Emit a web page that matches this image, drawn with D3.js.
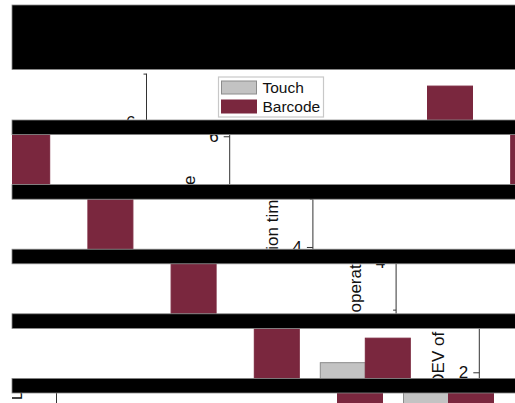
<!DOCTYPE html>
<html>
<head>
<meta charset="utf-8">
<script src="https://cdn.jsdelivr.net/npm/d3@7"></script>
<style>
  html, body { margin: 0; padding: 0; background: #fff; }
  svg { display: block; font-family: "Liberation Sans", Arial, sans-serif; }
</style>
</head>
<body>
<div id="chart"></div>
<script>
const width = 515;
const height = 403;

// data
const groups = ["Group 1", "Group 2"];
const seriesNames = ["Touch", "Barcode"];
const touchValues = [1.3, 2.2];
const barcodeValues = [6.74, 2.71];
const majorTicks = [2, 4, 6];
const minorTicks = [1, 3, 5, 7];
const yLabel = "STDEV of operation time";

const seriesColors = { Touch: "#c3c3c3", Barcode: "#7a273e" };
const seriesStroke = { Touch: "#8c8c8c", Barcode: "#7a273e" };

// the picture is cut in bands, every band shifted sideways and wrapped
const WRAP = 506;
const LEFT = 12;
const STRIP_H = 50;
const stripTops = [70, 134.6, 199.2, 263.8, 328.4, 393];
const stripShift = k => 146.5 + 83.2 * k;

const y = d3.scaleLinear().domain([0, 7]).range([340, 3.6]);
const x0 = d3.scaleBand().domain(groups).range([225.5, 447.5]);
const x1 = d3.scaleBand().domain(seriesNames).range([10.5, 100.5]);

const rows = groups.map((g, i) => ({
  group: g,
  values: [
    { key: "Touch", value: touchValues[i] },
    { key: "Barcode", value: barcodeValues[i] },
  ],
}));

const svg = d3.select("#chart")
  .append("svg")
  .attr("width", width)
  .attr("height", height);

svg.append("rect").attr("width", width).attr("height", height).attr("fill", "#fff");

function drawChart(g) {
  // bars
  const grp = g.selectAll(".grp")
    .data(rows)
    .join("g")
    .attr("transform", d => `translate(${x0(d.group)},0)`);

  grp.selectAll("rect")
    .data(d => d.values)
    .join("rect")
    .attr("x", d => x1(d.key))
    .attr("width", x1.bandwidth())
    .attr("y", d => y(d.value))
    .attr("height", d => y(0) - y(d.value))
    .attr("fill", d => seriesColors[d.key])
    .attr("stroke", d => seriesStroke[d.key])
    .attr("stroke-width", 1);

  // y axis, labels on even values, short ticks on odd ones
  const major = g.append("g")
    .call(d3.axisLeft(y).tickValues(majorTicks).tickFormat(d3.format("d"))
      .tickSize(6).tickPadding(5).tickSizeOuter(0));
  major.select(".domain").attr("stroke", "#333").attr("d", `M0,${y(7)}V${y(0)}`);
  major.selectAll(".tick line").attr("stroke", "#333");
  major.selectAll(".tick text")
    .attr("font-size", 17)
    .attr("font-family", "Liberation Sans, Arial, sans-serif")
    .attr("fill", "#111");

  const minor = g.append("g")
    .call(d3.axisLeft(y).tickValues(minorTicks).tickSize(3).tickFormat("").tickSizeOuter(0));
  minor.select(".domain").remove();
  minor.selectAll(".tick line").attr("stroke", "#333");

  g.append("text")
    .attr("transform", `translate(-35,185) rotate(-90)`)
    .attr("text-anchor", "middle")
    .attr("font-size", 17)
    .attr("fill", "#111")
    .text(yLabel);

  // legend
  const legend = g.append("g").attr("transform", "translate(72,7)");
  legend.append("rect")
    .attr("width", 105).attr("height", 40)
    .attr("fill", "#fff").attr("stroke", "#c8c8c8").attr("stroke-width", 1.2);
  const item = legend.selectAll(".item")
    .data(seriesNames)
    .join("g")
    .attr("transform", (d, i) => `translate(3,${4 + i * 19})`);
  item.append("rect")
    .attr("width", 35).attr("height", 13)
    .attr("fill", d => seriesColors[d])
    .attr("stroke", d => seriesStroke[d]);
  item.append("text")
    .attr("x", 41).attr("y", 12)
    .attr("font-size", 15.5)
    .attr("fill", "#111")
    .text(d => d);
}

const defs = svg.append("defs");

stripTops.forEach((top, k) => {
  const h = Math.min(STRIP_H, height - top);
  defs.append("clipPath")
    .attr("id", `strip${k}`)
    .append("rect")
    .attr("x", LEFT).attr("y", top)
    .attr("width", width - LEFT).attr("height", h);

  const strip = svg.append("g").attr("clip-path", `url(#strip${k})`);
  [-1, 0, 1].forEach(m => {
    const g = strip.append("g")
      .attr("transform", `translate(${stripShift(k) + m * WRAP},${top - STRIP_H * k})`);
    drawChart(g);
  });
});

// black bands between strips
const bands = [[5, 69.5]].concat(
  stripTops.slice(0, -1).map((top, k) => [top + STRIP_H, stripTops[k + 1]])
);

svg.selectAll(".band")
  .data(bands)
  .join("rect")
  .attr("class", "band")
  .attr("x", LEFT)
  .attr("y", d => d[0])
  .attr("width", width - LEFT + 2)
  .attr("height", d => d[1] - d[0])
  .attr("fill", "#000")
  .attr("stroke", "#888")
  .attr("stroke-width", 0.8);
</script>
</body>
</html>
